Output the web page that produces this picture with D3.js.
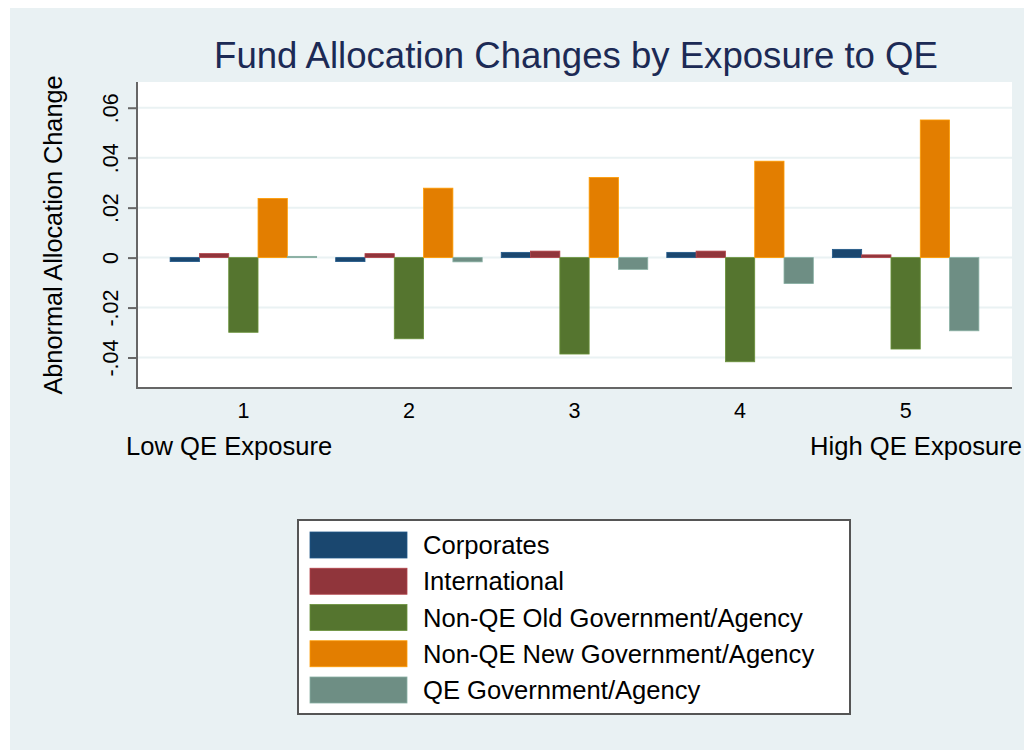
<!DOCTYPE html>
<html>
<head>
<meta charset="utf-8">
<script src="https://cdn.jsdelivr.net/npm/d3@7"></script>
<style>
  body { margin: 0; background: #ffffff; }
  svg { display: block; font-family: "Liberation Sans", Arial, Helvetica, sans-serif; }
</style>
</head>
<body>
<div id="chart"></div>
<script>
// data
var categories = ["1", "2", "3", "4", "5"];
var seriesNames = ["Corporates", "International", "Non-QE Old Government/Agency",
                   "Non-QE New Government/Agency", "QE Government/Agency"];
var corporates    = [-0.0016, -0.0016, 0.0021, 0.0021, 0.0033];
var international = [0.0016, 0.0016, 0.0026, 0.0026, 0.0011];
var nonQEOld      = [-0.0299, -0.0325, -0.0386, -0.0417, -0.0366];
var nonQENew      = [0.0237, 0.0278, 0.0321, 0.0386, 0.0551];
var qeGov         = [0.0005, -0.0017, -0.0047, -0.0104, -0.0293];
var yTicks = [-0.04, -0.02, 0, 0.02, 0.04, 0.06];
var colors = ["#1a476f", "#90353b", "#55752f", "#e37e00", "#6e8e84"];

var allSeries = [corporates, international, nonQEOld, nonQENew, qeGov];

var width = 1024, height = 750;
var plot = {left: 137, right: 1012, top: 82, bottom: 388};

var svg = d3.select("#chart").append("svg")
  .attr("width", width)
  .attr("height", height);

// graph region background
svg.append("rect")
  .attr("x", 10).attr("y", 8)
  .attr("width", width - 10).attr("height", height - 8)
  .attr("fill", "#e9f1f3");

// plot region
svg.append("rect")
  .attr("x", plot.left).attr("y", plot.top)
  .attr("width", plot.right - plot.left).attr("height", plot.bottom - plot.top)
  .attr("fill", "#ffffff");

var x0 = d3.scaleBand()
  .domain(categories)
  .range([plot.left, plot.right])
  .paddingInner(0.115)
  .paddingOuter(0.2);

var x1 = d3.scaleBand()
  .domain(seriesNames)
  .range([0, x0.bandwidth()]);

var y = d3.scaleLinear()
  .domain([-0.0522, 0.0703])
  .range([plot.bottom, plot.top]);

var fmt = function(d) {
  if (d === 0) return "0";
  return d.toFixed(2).replace("0.", ".");
};

// gridlines
svg.append("g").selectAll("line")
  .data(yTicks)
  .enter().append("line")
  .attr("x1", plot.left).attr("x2", plot.right)
  .attr("y1", function(d) { return y(d); })
  .attr("y2", function(d) { return y(d); })
  .attr("stroke", "#eaf2f3")
  .attr("stroke-width", 2);

// bars
var rows = [];
categories.forEach(function(c, i) {
  seriesNames.forEach(function(s, j) {
    rows.push({cat: c, series: s, value: allSeries[j][i], color: colors[j]});
  });
});

svg.append("g").selectAll("rect")
  .data(rows)
  .enter().append("rect")
  .attr("x", function(d) { return x0(d.cat) + x1(d.series); })
  .attr("width", x1.bandwidth())
  .attr("y", function(d) { return y(Math.max(0, d.value)); })
  .attr("height", function(d) { return Math.abs(y(d.value) - y(0)); })
  .attr("fill", function(d) { return d.color; })
  .attr("stroke", function(d) { return d3.color(d.color).brighter(0.6); })
  .attr("stroke-width", 0.8);

// y axis
var yAxis = d3.axisLeft(y).tickValues(yTicks).tickSize(9).tickPadding(0).tickFormat(fmt);
var gy = svg.append("g")
  .attr("transform", "translate(" + plot.left + ",0)")
  .call(yAxis);
gy.select(".domain").attr("d", "M0," + plot.top + "V" + plot.bottom)
  .attr("stroke", "#666666").attr("stroke-width", 2);
gy.selectAll(".tick line").attr("stroke", "#666666").attr("stroke-width", 2);
gy.selectAll(".tick text")
  .attr("x", 0).attr("dy", null)
  .attr("transform", "translate(-19,0) rotate(-90)")
  .attr("text-anchor", "middle")
  .attr("font-size", 21.5)
  .attr("fill", "#000");

// x axis
var xAxis = d3.axisBottom(x0).tickSize(0).tickPadding(0);
var gx = svg.append("g")
  .attr("transform", "translate(0," + plot.bottom + ")")
  .call(xAxis);
gx.select(".domain").attr("d", "M" + (plot.left - 1) + ",0H" + plot.right)
  .attr("stroke", "#666666").attr("stroke-width", 2);
gx.selectAll(".tick text")
  .attr("y", 30).attr("dy", null)
  .attr("font-size", 21.5)
  .attr("fill", "#000");

svg.append("text")
  .attr("x", 126).attr("y", 455)
  .attr("font-size", 25.6)
  .text("Low QE Exposure");
svg.append("text")
  .attr("x", 1022).attr("y", 455)
  .attr("text-anchor", "end")
  .attr("font-size", 25.6)
  .text("High QE Exposure");

// axis title
svg.append("text")
  .attr("transform", "translate(62," + ((plot.top + plot.bottom) / 2) + ") rotate(-90)")
  .attr("text-anchor", "middle")
  .attr("font-size", 25.3)
  .text("Abnormal Allocation Change");

// title
svg.append("text")
  .attr("x", 576).attr("y", 68)
  .attr("text-anchor", "middle")
  .attr("font-size", 36.6)
  .attr("fill", "#1c2a55")
  .text("Fund Allocation Changes by Exposure to QE");

// legend
var legend = svg.append("g");
legend.append("rect")
  .attr("x", 298).attr("y", 520)
  .attr("width", 552).attr("height", 194)
  .attr("fill", "#ffffff")
  .attr("stroke", "#555555")
  .attr("stroke-width", 2);

var item = legend.selectAll(".item")
  .data(seriesNames)
  .enter().append("g")
  .attr("transform", function(d, i) { return "translate(310," + (532 + i * 36.25) + ")"; });

item.append("rect")
  .attr("width", 97).attr("height", 26)
  .attr("fill", function(d, i) { return colors[i]; })
  .attr("stroke", function(d, i) { return d3.color(colors[i]).brighter(0.6); })
  .attr("stroke-width", 0.8);

item.append("text")
  .attr("x", 113).attr("y", 22)
  .attr("font-size", 25.6)
  .attr("fill", "#000")
  .text(function(d) { return d; });
</script>
</body>
</html>
